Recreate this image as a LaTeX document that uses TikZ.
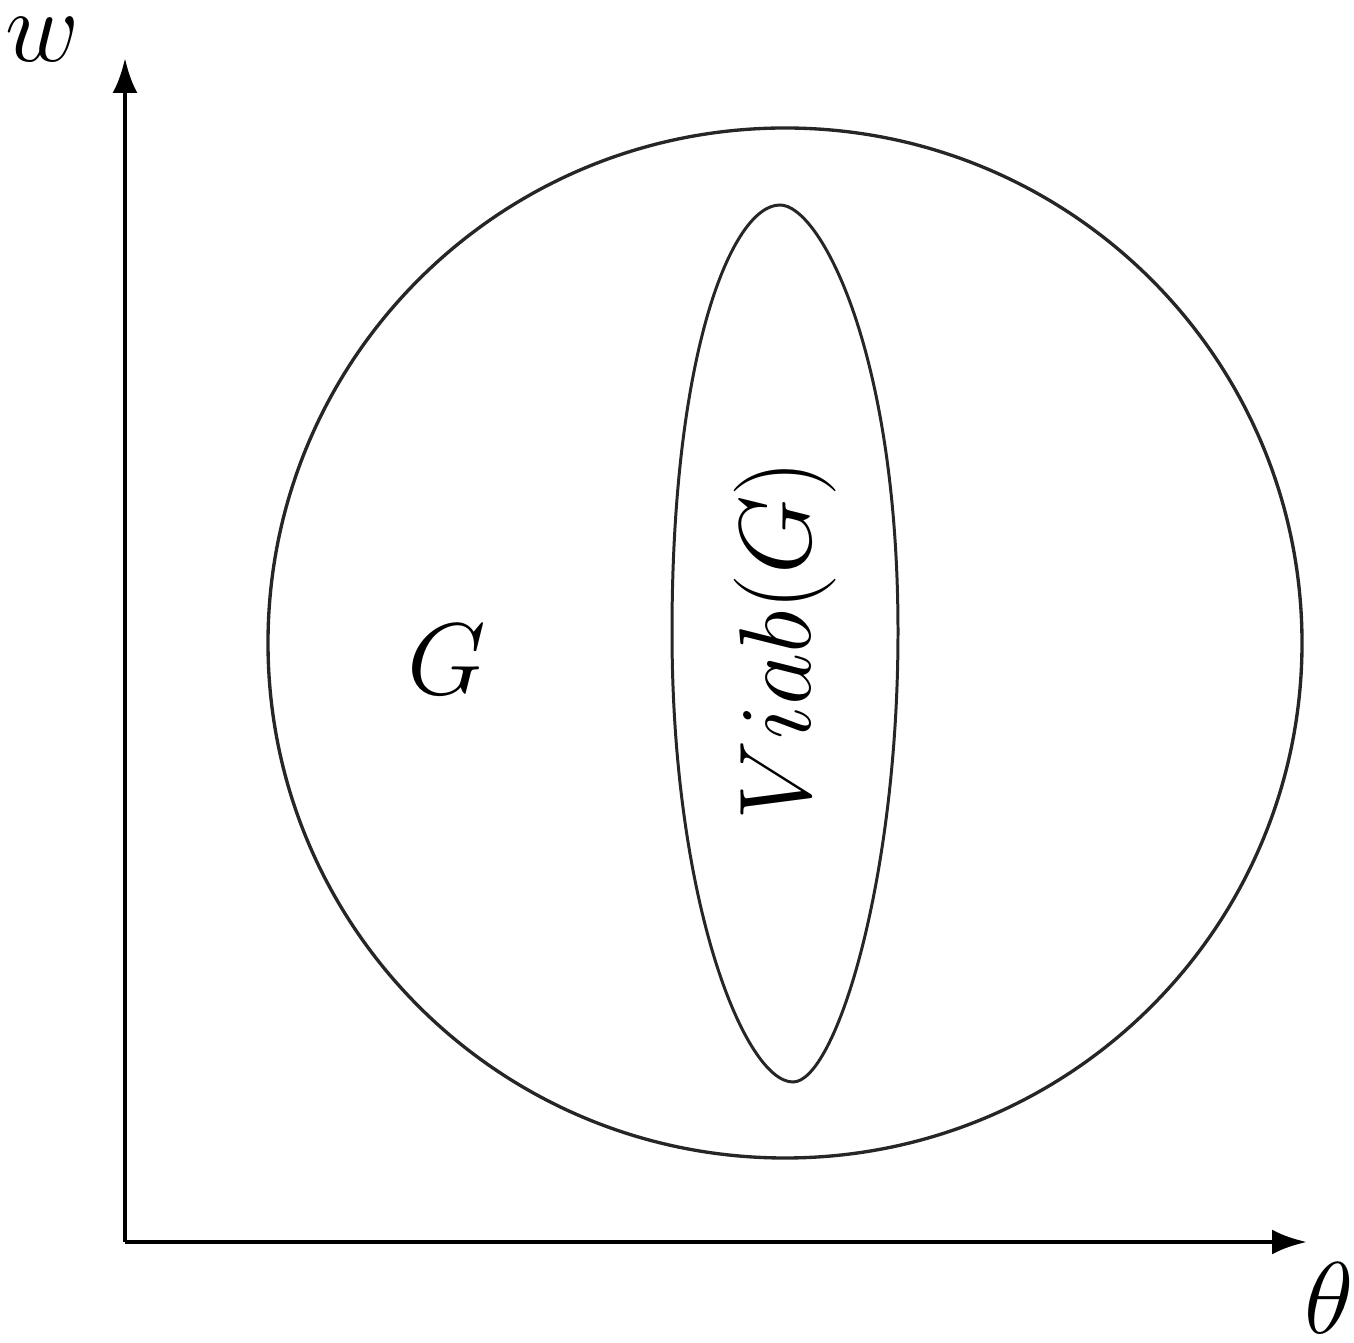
\documentclass[tikz,border=0pt]{standalone}
\usetikzlibrary{arrows.meta}
\begin{document}
\begin{tikzpicture}[x=1cm,y=1cm,
  axisline/.style={line width=1.4pt,-{Latex[length=3.5mm,width=2.5mm]}},
  setline/.style={line width=0.95pt,black!85},
  lbl/.style={inner sep=0pt,font=\fontsize{24.88}{30}\selectfont,scale=1.1656}]
\useasboundingbox (0,0) rectangle (13.54,13.42);
% axes
\coordinate (O) at (1.25,1.00);
\coordinate (Ytop) at (1.25,12.84);
\coordinate (Xend) at (13.07,1.00);
\draw[axisline] (O) -- (Ytop);
\draw[axisline] (O) -- (Xend);
\node[lbl,anchor=base] (wlab) at (0.43,12.80) {$w$};
\node[lbl,anchor=base] (thlab) at (13.29,0.09) {$\theta$};
% outer set G
\draw[setline] (7.85,6.99) ellipse [x radius=5.17, y radius=5.15];
% inner set Viab(G)
\coordinate (vt) at (7.80,11.37);
\coordinate (vr) at (8.98,7.10);
\coordinate (vb) at (7.93,2.60);
\coordinate (vl) at (6.72,7.10);
\draw[setline,line width=0.85pt]
  (vt) .. controls (8.20,11.37) and (8.98,9.90) .. (vr)
       .. controls (8.98,4.60) and (8.35,2.60) .. (vb)
       .. controls (7.45,2.60) and (6.72,4.40) .. (vl)
       .. controls (6.72,9.90) and (7.32,11.37) .. (vt) -- cycle;
\node[lbl,anchor=base] (glab) at (4.47,6.47) {$G$};
\node[lbl,anchor=base,rotate=90] (vlab) at (8.10,7.02) {$Viab(G)$};
\end{tikzpicture}
\end{document}
